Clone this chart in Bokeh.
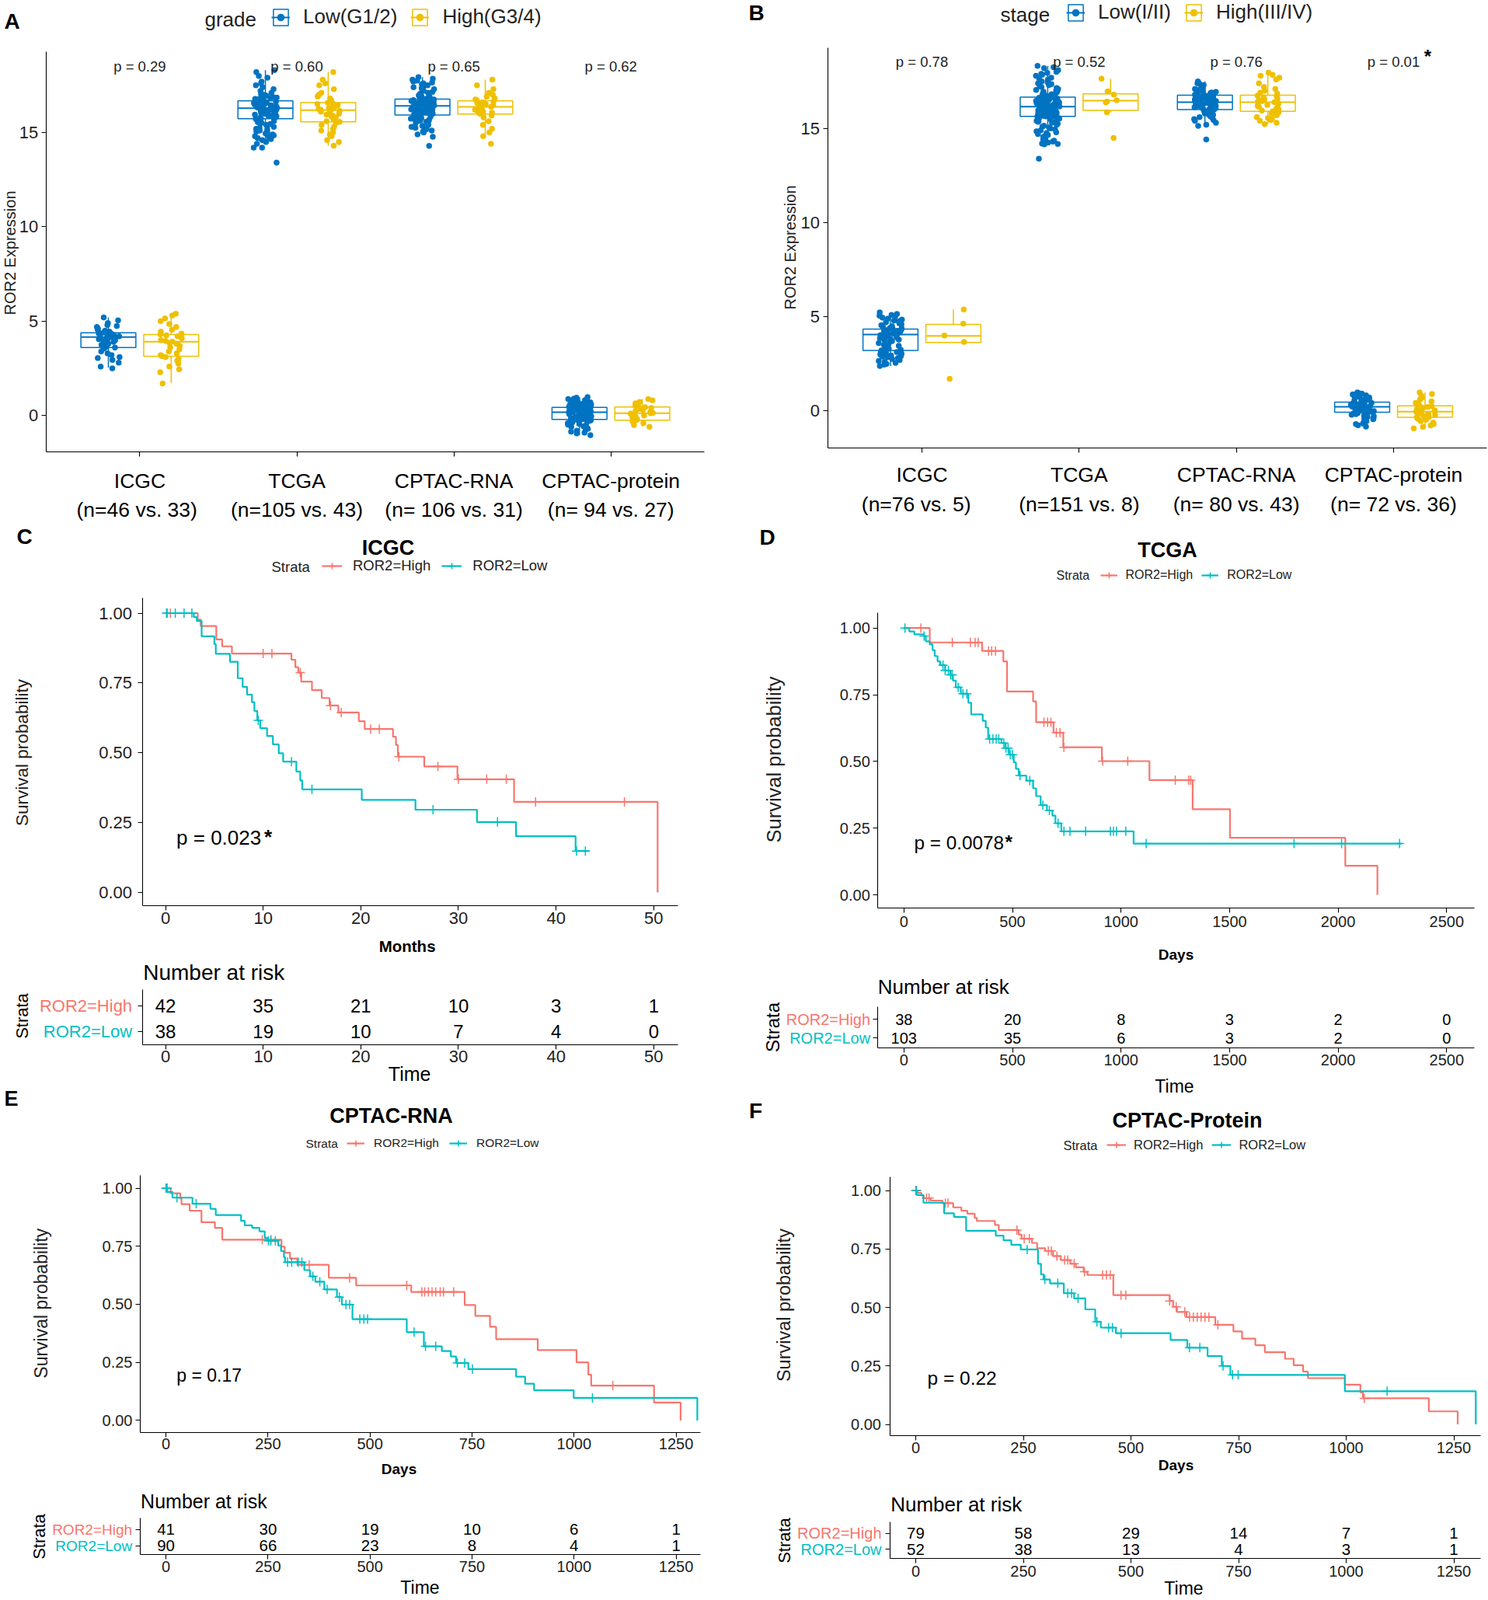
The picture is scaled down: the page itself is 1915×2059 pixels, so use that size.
import numpy as np
from bokeh.plotting import figure
from bokeh.models import (Range1d, FixedTicker, Label, Legend, LegendItem,
                          ColumnDataSource, NumeralTickFormatter)
from bokeh.transform import jitter
from bokeh.layouts import column, row
from bokeh.embed import file_html
from bokeh.resources import INLINE
from bokeh.core.properties import value

REG = "Liberation Sans"
BLUE, YELLOW = "#0073C2", "#EFC000"
RED, CYAN = "#F8766D", "#00BFC4"
INK = "#222222"


def pts(s):
    return [float(v) for v in s.split()]


# ---------------- Panels A & B : ROR2 expression by grade / stage ----------------
CATS = ["ICGC", "TCGA", "CPTAC-RNA", "CPTAC-protein"]
A_N = ["(n=46 vs.  33)", "(n=105 vs. 43)", "(n= 106 vs. 31)", "(n= 94 vs. 27)"]
B_N = ["(n=76  vs.  5)", "(n=151 vs. 8)", "(n= 80 vs. 43)", "(n= 72 vs. 36)"]
A_P = ["p = 0.29", "p = 0.60", "p = 0.65", "p = 0.62"]
B_P = ["p = 0.78", "p = 0.52", "p = 0.76", "p = 0.01"]
A_SIG = ["", "", "", ""]
B_SIG = ["", "", "", "*"]
Y_TICKS_BOX = [0, 5, 10, 15]

A_LOW_Q1 = [3.61, 15.73, 15.93, -0.20]
A_LOW_MED = [4.16, 16.29, 16.41, 0.18]
A_LOW_Q3 = [4.39, 16.68, 16.77, 0.43]
A_LOW_WLO = [2.54, 14.60, 15.00, -1.04]
A_LOW_WHI = [5.20, 18.30, 17.93, 0.98]
A_HIGH_Q1 = [3.14, 15.57, 15.98, -0.25]
A_HIGH_MED = [3.91, 16.18, 16.36, 0.13]
A_HIGH_Q3 = [4.29, 16.59, 16.68, 0.45]
A_HIGH_WLO = [1.73, 14.30, 14.80, -0.59]
A_HIGH_WHI = [5.39, 18.20, 17.80, 0.88]

B_LOW_Q1 = [3.21, 15.64, 16.00, -0.07]
B_LOW_MED = [4.05, 16.16, 16.39, 0.21]
B_LOW_Q3 = [4.34, 16.66, 16.77, 0.46]
B_LOW_WLO = [2.38, 14.16, 15.14, -0.84]
B_LOW_WHI = [5.23, 18.32, 17.50, 0.98]
B_HIGH_Q1 = [3.63, 15.96, 15.91, -0.34]
B_HIGH_MED = [3.98, 16.48, 16.39, -0.04]
B_HIGH_Q3 = [4.59, 16.84, 16.77, 0.27]
B_HIGH_WLO = [3.63, 15.85, 15.23, -0.93]
B_HIGH_WHI = [5.38, 17.64, 17.96, 0.98]

A_LOW_PTS = [
    pts("5.2 5.05 4.9 4.8 4.75 4.7 4.6 4.55 4.5 4.45 4.42 4.4 4.38 4.35 4.32 4.3 4.28 4.25 4.22 4.2 4.18 4.16 4.15 "
        "4.12 4.1 4.05 4.0 3.95 3.9 3.85 3.8 3.75 3.7 3.65 3.62 3.6 3.55 3.4 3.3 3.2 3.1 3.05 2.95 2.8 2.6 2.5"),
    pts("18.3 18.2 18.0 17.9 17.7 17.6 17.5 17.4 17.3 17.2 17.1 17.05 17.0 16.95 16.9 16.88 16.85 16.82 16.8 16.78 "
        "16.75 16.72 16.7 16.69 16.66 16.64 16.62 16.6 16.58 16.56 16.54 16.52 16.5 16.48 16.46 16.44 16.42 16.4 "
        "16.39 16.38 16.37 16.36 16.35 16.34 16.33 16.32 16.31 16.3 16.3 16.29 16.28 16.26 16.24 16.22 16.2 16.18 "
        "16.16 16.14 16.12 16.1 16.08 16.05 16.02 16.0 15.98 15.95 15.92 15.9 15.88 15.85 15.82 15.8 15.78 15.76 "
        "15.74 15.73 15.7 15.65 15.6 15.55 15.5 15.45 15.4 15.35 15.3 15.25 15.2 15.15 15.1 15.05 15.0 14.95 14.9 "
        "14.85 14.8 14.75 14.7 14.65 14.6 14.5 14.4 14.2 14.2 13.4"),
    pts("17.93 17.85 17.8 17.75 17.7 17.65 17.6 17.55 17.5 17.45 17.4 17.35 17.3 17.25 17.2 17.15 17.1 17.05 17.0 "
        "16.97 16.94 16.91 16.88 16.85 16.82 16.79 16.76 16.75 16.73 16.72 16.7 16.69 16.67 16.66 16.64 16.63 16.61 "
        "16.6 16.58 16.57 16.55 16.54 16.52 16.51 16.5 16.48 16.47 16.46 16.45 16.44 16.43 16.42 16.41 16.4 16.38 "
        "16.36 16.34 16.32 16.3 16.28 16.26 16.24 16.22 16.2 16.18 16.16 16.14 16.12 16.1 16.08 16.06 16.04 16.02 "
        "16.0 15.99 15.98 15.97 15.96 15.95 15.94 15.91 15.88 15.85 15.82 15.79 15.76 15.73 15.7 15.66 15.62 15.58 "
        "15.54 15.5 15.45 15.4 15.35 15.3 15.25 15.2 15.15 15.1 15.05 15.0 14.9 14.77 14.29"),
    pts("0.98 0.95 0.9 0.88 0.85 0.82 0.8 0.78 0.75 0.72 0.7 0.68 0.65 0.62 0.6 0.58 0.55 0.52 0.5 0.48 0.46 0.45 "
        "0.44 0.42 0.41 0.4 0.39 0.38 0.37 0.36 0.35 0.34 0.33 0.32 0.31 0.3 0.29 0.28 0.27 0.26 0.25 0.24 0.23 0.22 "
        "0.21 0.2 0.19 0.18 0.17 0.15 0.13 0.11 0.09 0.07 0.05 0.03 0.01 -0.01 -0.03 -0.05 -0.07 -0.09 -0.1 -0.11 "
        "-0.12 -0.13 -0.14 -0.15 -0.16 -0.17 -0.18 -0.19 -0.2 -0.22 -0.25 -0.28 -0.3 -0.33 -0.36 -0.4 -0.44 -0.48 "
        "-0.52 -0.56 -0.6 -0.65 -0.7 -0.75 -0.8 -0.85 -0.9 -0.95 -1.04"),
]
A_HIGH_PTS = [
    pts("5.4 5.3 5.15 5.0 4.85 4.7 4.55 4.45 4.35 4.3 4.25 4.2 4.1 4.0 3.95 3.91 3.85 3.8 3.7 3.6 3.5 3.4 3.3 3.2 "
        "3.15 3.1 3.0 2.9 2.75 2.6 2.45 2.3 1.7"),
    pts("18.2 17.8 17.6 17.5 17.3 17.1 17.0 16.9 16.8 16.7 16.62 16.58 16.55 16.5 16.45 16.4 16.35 16.3 16.25 16.2 "
        "16.18 16.15 16.1 16.05 16.0 15.95 15.9 15.85 15.8 15.7 15.6 15.57 15.5 15.4 15.3 15.2 15.1 15.0 14.9 14.8 "
        "14.6 14.5 14.3"),
    pts("17.8 17.5 17.3 17.1 17.0 16.9 16.8 16.75 16.7 16.65 16.6 16.55 16.5 16.45 16.4 16.36 16.3 16.25 16.2 16.15 "
        "16.1 16.05 16.0 15.9 15.8 15.6 15.4 15.2 15.0 14.8 14.4"),
    pts("0.88 0.8 0.72 0.65 0.58 0.52 0.47 0.44 0.4 0.35 0.3 0.25 0.2 0.15 0.13 0.1 0.05 0.0 -0.05 -0.1 -0.15 -0.2 "
        "-0.25 -0.3 -0.4 -0.5 -0.59"),
]
B_LOW_PTS = [
    pts("5.23 5.15 5.1 5.05 5.0 4.95 4.9 4.85 4.8 4.75 4.7 4.65 4.6 4.55 4.5 4.45 4.4 4.38 4.36 4.33 4.31 4.29 4.27 "
        "4.25 4.23 4.21 4.19 4.17 4.15 4.13 4.11 4.09 4.07 4.05 4.05 4.02 3.98 3.94 3.9 3.86 3.82 3.78 3.74 3.7 3.65 "
        "3.6 3.55 3.5 3.45 3.4 3.35 3.3 3.25 3.21 3.18 3.15 3.12 3.09 3.06 3.03 3.0 2.97 2.94 2.91 2.88 2.85 2.8 2.75 "
        "2.7 2.65 2.6 2.55 2.5 2.45 2.38"),
    pts("18.32 18.25 18.2 18.1 18.0 17.95 17.9 17.85 17.8 17.7 17.65 17.6 17.55 17.5 17.45 17.4 17.35 17.3 17.25 "
        "17.2 17.15 17.1 17.05 17.0 16.98 16.95 16.92 16.9 16.88 16.85 16.82 16.8 16.78 16.75 16.72 16.7 16.68 16.65 "
        "16.64 16.63 16.62 16.6 16.58 16.57 16.55 16.54 16.52 16.5 16.49 16.47 16.45 16.44 16.42 16.4 16.39 16.37 "
        "16.35 16.34 16.32 16.3 16.29 16.28 16.27 16.26 16.25 16.24 16.23 16.22 16.21 16.2 16.19 16.18 16.17 16.17 "
        "16.16 16.15 16.13 16.12 16.1 16.08 16.06 16.05 16.03 16.01 16.0 15.98 15.96 15.95 15.93 15.91 15.9 15.88 "
        "15.86 15.85 15.83 15.81 15.8 15.78 15.77 15.75 15.74 15.73 15.72 15.71 15.7 15.69 15.68 15.67 15.66 15.65 "
        "15.65 15.64 15.64 15.62 15.6 15.57 15.55 15.52 15.5 15.47 15.45 15.42 15.4 15.37 15.35 15.3 15.25 15.2 "
        "15.15 15.1 15.05 15.0 14.95 14.9 14.85 14.8 14.75 14.7 14.65 14.6 14.55 14.5 14.45 14.4 14.35 14.3 14.25 "
        "14.2 14.18 14.16 13.39"),
    pts("17.5 17.45 17.4 17.35 17.3 17.25 17.2 17.15 17.1 17.05 17.0 16.97 16.94 16.91 16.88 16.86 16.84 16.82 16.8 "
        "16.78 16.76 16.74 16.72 16.7 16.68 16.66 16.64 16.62 16.6 16.58 16.56 16.54 16.52 16.5 16.48 16.46 16.44 "
        "16.42 16.4 16.39 16.37 16.35 16.33 16.31 16.29 16.27 16.25 16.23 16.21 16.19 16.17 16.15 16.13 16.11 16.09 "
        "16.07 16.05 16.03 16.01 16.0 15.98 15.95 15.92 15.9 15.87 15.84 15.8 15.76 15.72 15.68 15.64 15.6 15.55 "
        "15.5 15.45 15.4 15.3 15.2 15.14 14.41"),
    pts("0.98 0.95 0.92 0.9 0.87 0.85 0.82 0.8 0.77 0.74 0.71 0.68 0.65 0.62 0.58 0.55 0.52 0.48 0.45 0.44 0.42 "
        "0.41 0.39 0.38 0.36 0.35 0.33 0.32 0.3 0.29 0.27 0.26 0.25 0.24 0.23 0.21 0.19 0.17 0.15 0.13 0.11 0.09 "
        "0.07 0.05 0.04 0.03 0.02 0.01 0.0 -0.01 -0.03 -0.04 -0.05 -0.07 -0.09 -0.12 -0.15 -0.18 -0.21 -0.25 -0.28 "
        "-0.32 -0.36 -0.4 -0.45 -0.5 -0.55 -0.6 -0.65 -0.7 -0.77 -0.84"),
]
B_HIGH_PTS = [
    pts("5.38 4.63 4.0 3.66 1.7"),
    pts("17.64 16.96 16.8 16.5 16.43 16.38 15.86 14.5"),
    pts("17.96 17.85 17.8 17.7 17.6 17.4 17.2 17.1 17.0 16.9 16.85 16.75 16.7 16.65 16.6 16.55 16.5 16.45 16.42 "
        "16.39 16.39 16.35 16.3 16.25 16.2 16.15 16.1 16.05 16.0 15.95 15.91 15.85 15.8 15.75 15.7 15.6 15.55 15.5 "
        "15.45 15.4 15.3 15.23"),
    pts("0.98 0.9 0.8 0.7 0.6 0.5 0.42 0.35 0.3 0.25 0.2 0.15 0.1 0.06 0.03 0.0 -0.02 -0.04 -0.06 -0.1 -0.14 -0.18 "
        "-0.22 -0.26 -0.3 -0.33 -0.34 -0.38 -0.42 -0.48 -0.55 -0.62 -0.7 -0.78 -0.85 -0.93"),
]

# ---------------- Panels C-F : Kaplan-Meier curves ----------------
C_HIGH_T = [0, 3.3, 3.6, 5.2, 5.8, 6.8, 12.9, 13.3, 13.6, 13.9, 15.0, 16.0, 16.8, 17.7, 19.8, 20.4, 23.3, 23.6,
            23.8, 26.5, 29.9, 35.7, 50.4]
C_HIGH_S = [1, .977, .954, .906, .881, .855, .833, .806, .787, .755, .724, .696, .669, .644, .613, .585, .557, .528,
            .486, .451, .405, .324, 0]
C_HIGH_C = [0.2, 0.5, 10.0, 10.9, 13.8, 16.9, 18.0, 21.0, 21.9, 23.9, 27.9, 30.0, 32.9, 34.9, 37.9, 47.0]
C_LOW_T = [0, 2.9, 3.2, 3.7, 5.0, 5.15, 6.6, 7.4, 7.9, 8.35, 8.85, 9.1, 9.4, 9.7, 10.4, 11.0, 11.6, 12.05, 13.4,
           13.8, 14.0, 20.1, 25.6, 31.9, 35.9, 42.0, 43.4]
C_LOW_S = [1, .986, .972, .917, .889, .854, .826, .767, .736, .708, .681, .650, .616, .588, .560, .530, .498, .468,
           .433, .401, .369, .331, .296, .252, .201, .148, .148]
C_LOW_C = [0.1, 1.0, 1.9, 2.7, 9.5, 12.9, 15.0, 27.4, 34.0, 42.1, 43.0]

D_HIGH_T = [0, 119, 360, 458, 475, 595, 609, 689, 734, 912, 1131, 1330, 1502, 2033, 2181]
D_HIGH_S = [1, .946, .914, .875, .762, .725, .647, .608, .553, .501, .430, .321, .214, .109, 0]
D_HIGH_C = [78, 223, 306, 328, 342, 390, 404, 422, 645, 662, 677, 702, 719, 737, 915, 1031, 1250, 1312, 1321]
D_LOW_T = [0, 25, 48, 93, 101, 119, 132, 142, 155, 167, 190, 214, 226, 239, 262, 297, 310, 363, 377, 388, 449,
           467, 484, 506, 516, 529, 564, 595, 609, 630, 659, 684, 698, 725, 1058, 2292]
D_LOW_S = [1, .987, .976, .970, .950, .939, .917, .895, .875, .861, .841, .824, .803, .778, .754, .720, .676,
           .652, .627, .584, .569, .550, .525, .496, .472, .447, .428, .399, .370, .336, .316, .297, .268, .238,
           .192, .192]
D_LOW_C = [5, 93, 180, 190, 205, 215, 222, 250, 272, 290, 395, 410, 425, 437, 460, 470, 480, 490, 500, 535, 580,
           640, 670, 710, 737, 765, 837, 951, 965, 979, 1022, 1116, 1797, 2016, 2283]

E_HIGH_T = [0, 11.5, 35, 38, 58, 87, 120, 138, 283, 291, 304, 322, 399, 466, 601, 732, 758, 794, 809, 911, 1006,
            1035, 1042, 1196, 1261]
E_HIGH_S = [1, .978, .955, .931, .903, .853, .829, .778, .748, .722, .697, .670, .614, .581, .553, .497, .450,
            .403, .350, .303, .250, .197, .150, .077, 0]
E_HIGH_C = [3, 236, 257, 351, 450, 590, 627, 634, 643, 652, 661, 672, 680, 705, 1095]
E_LOW_T = [0, 3, 16, 65, 109, 122, 184, 193, 211, 229, 242, 248, 275, 282, 289, 292, 339, 353, 366, 388, 419,
           431, 457, 590, 632, 676, 698, 711, 741, 858, 880, 902, 999, 1302]
E_LOW_S = [1, .984, .959, .933, .911, .884, .859, .840, .829, .814, .786, .773, .753, .729, .703, .681, .647,
           .620, .597, .564, .531, .499, .436, .380, .319, .299, .275, .247, .221, .188, .158, .130, .097, 0]
E_LOW_C = [0, 2, 27, 74, 251, 257, 268, 298, 308, 324, 333, 360, 377, 395, 425, 441, 450, 475, 485, 494, 608,
           636, 661, 714, 732, 751, 1045]

F_HIGH_T = [0, 4, 13, 18, 35, 62, 87, 106, 120, 137, 142, 184, 193, 239, 246, 270, 282, 301, 319, 337, 359, 372,
            390, 399, 459, 590, 598, 607, 629, 696, 738, 758, 789, 811, 858, 878, 900, 911, 997, 1033, 1039, 1192,
            1259]
F_HIGH_S = [1, .99, .979, .968, .957, .946, .928, .914, .901, .883, .870, .853, .831, .812, .794, .776, .753, .742,
            .720, .703, .687, .672, .653, .639, .553, .528, .503, .481, .459, .426, .398, .367, .339, .309, .281,
            .253, .226, .198, .170, .137, .112, .056, 0]
F_HIGH_C = [0, 2, 25, 31, 69, 75, 235, 252, 264, 308, 315, 328, 346, 353, 368, 392, 434, 443, 452, 477, 488, 590,
            605, 625, 636, 645, 654, 663, 672, 681, 702, 1042]
F_LOW_T = [0, 2, 18, 66, 89, 117, 186, 204, 222, 244, 284, 291, 297, 312, 344, 368, 394, 417, 430, 465, 592, 631,
           678, 711, 731, 997, 1301]
F_LOW_S = [1, .981, .948, .903, .887, .828, .807, .787, .768, .748, .687, .642, .620, .603, .561, .539, .492,
           .439, .414, .390, .361, .328, .292, .250, .212, .142, 0]
F_LOW_C = [1, 259, 300, 330, 353, 362, 377, 421, 448, 457, 477, 636, 660, 714, 736, 749, 1095]

C_TIMES = [0, 10, 20, 30, 40, 50]
C_RISK_HIGH = [42, 35, 21, 10, 3, 1]
C_RISK_LOW = [38, 19, 10, 7, 4, 0]
D_TIMES = [0, 500, 1000, 1500, 2000, 2500]
D_RISK_HIGH = [38, 20, 8, 3, 2, 0]
D_RISK_LOW = [103, 35, 6, 3, 2, 0]
E_TIMES = [0, 250, 500, 750, 1000, 1250]
E_RISK_HIGH = [41, 30, 19, 10, 6, 1]
E_RISK_LOW = [90, 66, 23, 8, 4, 1]
F_TIMES = [0, 250, 500, 750, 1000, 1250]
F_RISK_HIGH = [79, 58, 29, 14, 7, 1]
F_RISK_LOW = [52, 38, 13, 4, 3, 1]
SURV_TICKS = [0, 0.25, 0.5, 0.75, 1]


# ---------------- helpers ----------------
class Panel:
    """A figure whose frame is the whole canvas; axes sit at fixed locations inside it.
    cv = (left, top, width, height) on the page; xmap/ymap = (value_a, pixel_a, value_b, pixel_b);
    box = axis-line pixels (x_left, x_right, y_top, y_bottom)."""

    def __init__(self, cv, xmap, ymap, box, xticks, yticks):
        self.left, self.top, self.W, self.H = cv
        xa, pxa, xb, pxb = xmap
        ya, pya, yb, pyb = ymap
        self.sx = (pxb - pxa) / (xb - xa)
        self.sy = (pyb - pya) / (yb - ya)
        self.dx = lambda px: xa + (px - pxa) / self.sx
        self.dy = lambda py: ya + (py - pya) / self.sy
        L, T, W, H = cv
        p = figure(title=None, width=W, height=H, min_border=0,
                   min_border_left=0, min_border_right=0, min_border_top=0, min_border_bottom=0,
                   x_range=Range1d(self.dx(L), self.dx(L + W)),
                   y_range=Range1d(self.dy(T + H), self.dy(T)),
                   output_backend="svg", toolbar_location=None)
        p.outline_line_color = None
        p.grid.visible = False
        p.background_fill_color = "white"
        p.border_fill_color = "white"
        bx0, bx1, by0, by1 = box
        p.xaxis.fixed_location = self.dy(by1)
        p.xaxis.bounds = (self.dx(bx0), self.dx(bx1))
        p.yaxis.fixed_location = self.dx(bx0)
        p.yaxis.bounds = (self.dy(by1), self.dy(by0))
        p.xaxis.ticker = FixedTicker(ticks=xticks)
        p.yaxis.ticker = FixedTicker(ticks=yticks)
        for ax in (p.xaxis[0], p.yaxis[0]):
            ax.axis_line_color = "black"
            ax.axis_line_width = 1.1
            ax.major_tick_line_color = "black"
            ax.major_tick_line_width = 1.1
            ax.major_tick_out = 6
            ax.major_tick_in = 0
            ax.minor_tick_line_color = None
            ax.major_label_text_color = INK
            ax.major_label_text_font = REG
        self.p = p

    def scr(self, fx, fy):
        return fx - self.left, self.top + self.H - fy

    def text(self, text, fx, fy, size, bold=False, align="center", angle=0, color="black",
             data_x=None, data_y=None, xo=0, yo=0):
        sx, sy = self.scr(fx if fx is not None else 0, fy if fy is not None else 0)
        x, xu = (data_x, "data") if data_x is not None else (sx, "screen")
        y, yu = (data_y, "data") if data_y is not None else (sy, "screen")
        self.p.add_layout(Label(x=x, y=y, x_units=xu, y_units=yu, text=text, text_font=REG,
                                text_font_size=f"{size}px", text_font_style="bold" if bold else "normal",
                                text_align=align, text_baseline="middle", angle=angle, angle_units="deg",
                                text_color=color, x_offset=xo, y_offset=yo))

    def legend(self, items, fx_left, fy_bottom, **kw):
        sx, sy = self.scr(fx_left, fy_bottom)
        leg = Legend(items=items, location=(sx, sy), orientation="horizontal", padding=0, margin=0,
                     border_line_color=None, background_fill_alpha=0, label_text_font=REG,
                     label_text_color=INK, **kw)
        self.p.add_layout(leg, "center")


OFF, BW = 0.2, 0.35


def draw_group(p, xs, q1, med, q3, wlo, whi, pts_list, color):
    src = ColumnDataSource(dict(x=xs, q1=q1, med=med, q3=q3, wlo=wlo, whi=whi,
                                x0=[x - BW / 2 for x in xs], x1=[x + BW / 2 for x in xs]))
    p.segment(x0="x", y0="q3", x1="x", y1="whi", source=src, line_color=color, line_width=1.5)
    p.segment(x0="x", y0="q1", x1="x", y1="wlo", source=src, line_color=color, line_width=1.5)
    box = p.vbar(x="x", width=BW, top="q3", bottom="q1", source=src, fill_color="white",
                 line_color=color, line_width=1.5)
    med_r = p.segment(x0="x0", y0="med", x1="x1", y1="med", source=src, line_color=color, line_width=2)
    px, py = [], []
    for x, vals in zip(xs, pts_list):
        px += [x] * len(vals)
        py += list(vals)
    dots = p.scatter(x=jitter("x", width=0.15), y="y", source=ColumnDataSource(dict(x=px, y=py)),
                     size=7.5, fill_color=color, line_color=None)
    return [box, med_r, dots]


def box_panel(cv, xmap, ymap, box, low_stats, high_stats, low_pts, high_pts, leg_title, leg_labels,
              pvals, sig, nlab, T):
    xi = [i + 1 for i in range(len(CATS))]
    P = Panel(cv, xmap, ymap, box, xi, Y_TICKS_BOX)
    p = P.p
    p.xaxis.major_label_overrides = {x: "" for x in xi}
    p.yaxis.major_label_text_font_size = "22px"
    p.yaxis.major_label_standoff = T["ystand"]
    r_low = draw_group(p, [x - OFF for x in xi], *low_stats, low_pts, BLUE)
    r_high = draw_group(p, [x + OFF for x in xi], *high_stats, high_pts, YELLOW)
    P.legend([LegendItem(label=leg_labels[0], renderers=r_low),
              LegendItem(label=leg_labels[1], renderers=r_high)], T["leg"][0], T["leg"][1],
             glyph_width=24, glyph_height=26, label_standoff=17, spacing=17,
             label_text_font_size="26px", label_height=26)
    P.text(T["letter"], *T["letter_xy"], 28, bold=True)
    P.text(leg_title, *T["title_xy"], 26, align="left", color=INK)
    for i, x in enumerate(xi):
        P.text(pvals[i], None, T["p_y"], 18.5, data_x=x, color=INK)
        if sig[i]:
            P.text(sig[i], None, T["sig_y"], 24, bold=True, data_x=x, xo=T["sig_dx"])
        P.text(CATS[i], None, T["cat_y"][0], 26.5, data_x=x)
        P.text(nlab[i], None, T["cat_y"][1], 26.5, data_x=x)
    P.text("ROR2 Expression", *T["ylab_xy"], 20, angle=90, color=INK)
    return p


def surv_at(t, s, tc):
    idx = np.searchsorted(np.asarray(t, dtype=float), np.asarray(tc, dtype=float), side="right") - 1
    return [s[i] for i in idx]


def km_panel(cv, xmap, ymap, box, xticks, high, low, T, F):
    P = Panel(cv, xmap, ymap, box, xticks, SURV_TICKS)
    p = P.p
    p.yaxis.formatter = NumeralTickFormatter(format="0.00")
    for ax in (p.xaxis[0], p.yaxis[0]):
        ax.major_label_text_font_size = F["tick"]
    p.xaxis.major_label_standoff = T["xstand"]
    p.yaxis.major_label_standoff = T["ystand"]
    items = []
    for (t, s, tc), col, name in ((high, RED, "ROR2=High"), (low, CYAN, "ROR2=Low")):
        ln = p.step(t, s, mode="after", line_color=col, line_width=2.2)
        cr = p.scatter(tc, surv_at(t, s, tc), marker="cross", size=12, line_color=col, line_width=1.5)
        items.append(LegendItem(label=name, renderers=[ln, cr]))
    P.legend(items, T["leg"][0], T["leg"][1], glyph_width=T["gw"], glyph_height=20, label_standoff=T["ls"],
             spacing=T["sp"], label_text_font_size=f"{F['leg']}px", label_height=20)
    P.text(T["letter"], *T["letter_xy"], T.get("letter_size", 28), bold=True)
    P.text(T["title"], *T["title_xy"], 27, bold=True)
    P.text("Strata", *T["strata_xy"], F["leg"], align="left", color=INK)
    P.text(T["xlab"], *T["xlab_xy"], F["xlab"], bold=True)
    P.text("Survival probability", *T["ylab_xy"], F["ylab"], angle=90, color=INK)
    P.text(T["p"], None, None, F["p"], align="left", data_x=T["p_xy"][0], data_y=T["p_xy"][1])
    if T.get("star_dx"):
        P.text("*", None, None, F["p"], bold=True, align="left", data_x=T["p_xy"][0], data_y=T["p_xy"][1],
               xo=T["star_dx"], yo=1)
    return p


def risk_panel(cv, xmap, ymap, box, times, n_high, n_low, T, F):
    P = Panel(cv, xmap, ymap, box, times, [1, 2])
    p = P.p
    p.xaxis.major_label_text_font_size = F["tick"]
    p.xaxis.major_label_standoff = T["xstand"]
    p.yaxis.major_label_overrides = {1: "", 2: ""}
    xs = list(times) * 2
    ys = [2] * len(times) + [1] * len(times)
    labels = [str(v) for v in list(n_high) + list(n_low)]
    p.text(x=xs, y=ys, text=labels, text_align="center", text_baseline="middle",
           text_font=value(REG), text_font_size=value(f"{F['num']}px"), text_color="black")
    P.text("Number at risk", *T["nar_xy"], F["nar"], align="left")
    P.text("ROR2=High", T["row_x"], None, F["row"], align="right", color=RED, data_y=2)
    P.text("ROR2=Low", T["row_x"], None, F["row"], align="right", color=CYAN, data_y=1)
    P.text("Strata", *T["strata_xy"], F["strata"], angle=90)
    P.text("Time", *T["time_xy"], F["time"])
    return p


# ---------------- build panels (page pixel geometry; the page has no margin) ----------------
LW, RW = 960, 954   # column widths
pA = box_panel((0, 0, LW, 672), (1, 179.4, 4, 785.7), (15, 170, 0, 534.3), (58.8, 906, 66, 581),
               (A_LOW_Q1, A_LOW_MED, A_LOW_Q3, A_LOW_WLO, A_LOW_WHI),
               (A_HIGH_Q1, A_HIGH_MED, A_HIGH_Q3, A_HIGH_WLO, A_HIGH_WHI),
               A_LOW_PTS, A_HIGH_PTS, "grade", ["Low(G1/2)", "High(G3/4)"], A_P, A_SIG, A_N,
               dict(ystand=4, leg=(349, 37), letter="A", letter_xy=(15, 27), title_xy=(263, 24),
                    p_y=85, sig_y=75, sig_dx=0, cat_y=(618, 655), ylab_xy=(12, 325)))

pB = box_panel((960, 0, RW, 672), (1, 1186, 4, 1793), (15, 164.8, 0, 528.2), (1065.4, 1913, 60.7, 576),
               (B_LOW_Q1, B_LOW_MED, B_LOW_Q3, B_LOW_WLO, B_LOW_WHI),
               (B_HIGH_Q1, B_HIGH_MED, B_HIGH_Q3, B_HIGH_WLO, B_HIGH_WHI),
               B_LOW_PTS, B_HIGH_PTS, "stage", ["Low(I/II)", "High(III/IV)"], B_P, B_SIG, B_N,
               dict(ystand=5, leg=(1372, 31), letter="B", letter_xy=(973, 16), title_xy=(1287, 18),
                    p_y=79.4, sig_y=72, sig_dx=44, cat_y=(610.6, 648), ylab_xy=(1016, 318)))

F_C = dict(tick="22px", leg=18.5, xlab=20.5, ylab=22.5, p=26)
F_N = dict(tick="20px", leg=16, xlab=19, ylab=23, p=24)

pC = km_panel((0, 672, LW, 563), (0, 212.5, 50, 840.8), (1, 788.5, 0, 1147.9), (182.5, 872, 769, 1165),
              C_TIMES, (C_HIGH_T, C_HIGH_S, C_HIGH_C), (C_LOW_T, C_LOW_S, C_LOW_C),
              dict(xstand=2, ystand=7, leg=(414, 739), gw=26, ls=14, sp=14, letter="C", letter_xy=(31, 690),
                   title="ICGC", title_xy=(499, 704.5), strata_xy=(349, 729), xlab="Months",
                   xlab_xy=(523.6, 1217), ylab_xy=(27.6, 968), p="p = 0.023", p_xy=(1.12, 0.197),
                   star_dx=113), F_C)
pCr = risk_panel((0, 1235, LW, 161), (0, 212.5, 50, 840.8), (2, 1294, 1, 1326.5), (182.5, 872, 1273, 1344),
                 C_TIMES, C_RISK_HIGH, C_RISK_LOW,
                 dict(xstand=1, nar_xy=(183.7, 1250.5), row_x=169.6, strata_xy=(27.6, 1307), time_xy=(526.6, 1381)),
                 dict(tick="22px", num=24, nar=28, row=22, strata=22, time=25))

pE = km_panel((0, 1396, LW, 509), (0, 213.1, 1250, 869.6), (1, 1528.5, 0, 1827.4), (180, 901.4, 1512, 1842.5),
              E_TIMES, (E_HIGH_T, E_HIGH_S, E_HIGH_C), (E_LOW_T, E_LOW_S, E_LOW_C),
              dict(xstand=2, ystand=4, leg=(446, 1481), gw=23, ls=12, sp=13, letter="E", letter_xy=(14, 1413),
                   letter_size=27, title="CPTAC-RNA", title_xy=(503, 1435.4), strata_xy=(393, 1471), xlab="Days",
                   xlab_xy=(513, 1890), ylab_xy=(52, 1676.7), p="p = 0.17", p_xy=(26, 0.193)),
              dict(F_N, leg=15.5, p=23))
pEr = risk_panel((0, 1905, LW, 153), (0, 213.1, 1250, 869.6), (2, 1967.7, 1, 1988.5), (180, 901.4, 1953, 2000),
                 E_TIMES, E_RISK_HIGH, E_RISK_LOW,
                 dict(xstand=2, nar_xy=(180.6, 1931), row_x=169.6, strata_xy=(50, 1977), time_xy=(540, 2042)),
                 dict(tick="20px", num=20.5, nar=25, row=19, strata=22, time=23))

pD = km_panel((960, 672, RW, 578), (0, 1162.8, 2500, 1861.3), (1, 807.7, 0, 1151), (1129.3, 1896.7, 788, 1168),
              D_TIMES, (D_HIGH_T, D_HIGH_S, D_HIGH_C), (D_LOW_T, D_LOW_S, D_LOW_C),
              dict(xstand=4, ystand=4, leg=(1415.5, 750), gw=22, ls=11, sp=11, letter="D", letter_xy=(987, 691),
                   title="TCGA", title_xy=(1502, 707), strata_xy=(1359, 740), xlab="Days",
                   xlab_xy=(1513, 1228), ylab_xy=(995, 977), p="p = 0.0078", p_xy=(47, 0.195),
                   star_dx=117), dict(F_N, ylab=25.5, p=24.3))
pDr = risk_panel((960, 1250, RW, 162), (0, 1162.8, 2500, 1861.3), (2, 1311, 1, 1335), (1129.3, 1896.7, 1295, 1348),
                 D_TIMES, D_RISK_HIGH, D_RISK_LOW,
                 dict(xstand=2, nar_xy=(1129.3, 1269), row_x=1119.6, strata_xy=(993.5, 1321.5),
                      time_xy=(1511, 1397)),
                 dict(tick="20px", num=20, nar=26, row=20, strata=24, time=23))

pF = km_panel((960, 1412, RW, 493), (0, 1178, 1250, 1870.5), (1, 1531.6, 0, 1832.6), (1144.5, 1905, 1514, 1847),
              F_TIMES, (F_HIGH_T, F_HIGH_S, F_HIGH_C), (F_LOW_T, F_LOW_S, F_LOW_C),
              dict(xstand=2, ystand=5, leg=(1424, 1483), gw=25, ls=10, sp=11, letter="F", letter_xy=(972, 1429),
                   title="CPTAC-Protein", title_xy=(1527.6, 1441), strata_xy=(1368, 1473), xlab="Days",
                   xlab_xy=(1513, 1885.4), ylab_xy=(1008.7, 1679), p="p = 0.22", p_xy=(27, 0.198)),
              dict(F_N, leg=16.5, p=24.5, ylab=23.5))
pFr = risk_panel((960, 1905, RW, 153), (0, 1178, 1250, 1870.5), (2, 1972.5, 1, 1993), (1144.5, 1905, 1958, 2005),
                 F_TIMES, F_RISK_HIGH, F_RISK_LOW,
                 dict(xstand=3, nar_xy=(1145.7, 1935.6), row_x=1134, strata_xy=(1008.7, 1982), time_xy=(1523, 2043)),
                 dict(tick="20px", num=20.5, nar=26, row=20, strata=22, time=23))

layout = row(column(pA, pC, pCr, pE, pEr, spacing=0), column(pB, pD, pDr, pF, pFr, spacing=0), spacing=0)
open("out.html", "w").write(file_html(layout, INLINE, "ROR2 expression and survival"))
